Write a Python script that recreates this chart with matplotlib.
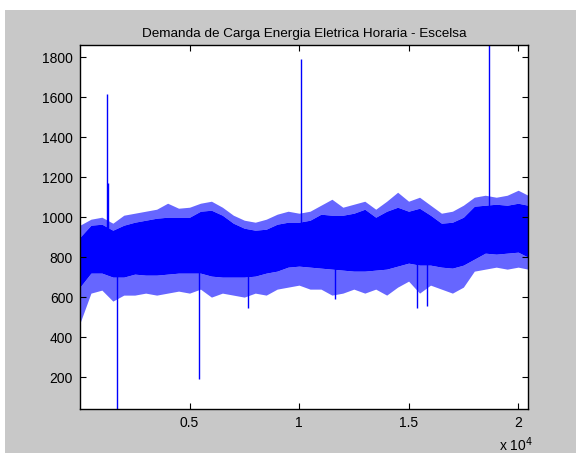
import numpy as np
import matplotlib.pyplot as plt
from matplotlib.patches import Rectangle

plt.rcParams['font.family'] = ['Liberation Sans', 'DejaVu Sans']

# hourly samples, envelope of the load band every 500 hours
hours = [0, 500, 1000, 1500, 2000, 2500, 3000, 3500, 4000, 4500,
         5000, 5500, 6000, 6500, 7000, 7500, 8000, 8500, 9000, 9500,
         10000, 10500, 11000, 11500, 12000, 12500, 13000, 13500, 14000, 14500,
         15000, 15500, 16000, 16500, 17000, 17500, 18000, 18500, 19000, 19500,
         20000, 20450]

top_core = [900, 960, 965, 935, 960, 975, 985, 995, 1000, 1000,
            1000, 1030, 1035, 1010, 970, 945, 935, 940, 965, 975,
            975, 985, 1015, 1010, 1010, 1020, 1040, 1000, 1030, 1050,
            1030, 1045, 1010, 970, 975, 1000, 1055, 1060, 1065, 1060,
            1070, 1060]

top_peak = [960, 990, 1000, 970, 1010, 1020, 1030, 1040, 1070, 1045,
            1050, 1070, 1080, 1050, 1010, 985, 975, 990, 1015, 1030,
            1020, 1030, 1060, 1090, 1050, 1065, 1080, 1040, 1080, 1125,
            1080, 1100, 1060, 1020, 1030, 1060, 1100, 1110, 1100, 1110,
            1135, 1110]

low_core = [650, 720, 720, 700, 700, 715, 710, 710, 715, 720,
            720, 720, 705, 700, 700, 700, 705, 720, 730, 750,
            755, 750, 745, 740, 735, 730, 730, 735, 740, 755,
            770, 760, 760, 750, 745, 760, 790, 820, 815, 820,
            825, 800]

low_peak = [470, 620, 635, 580, 610, 610, 620, 610, 620, 630,
            620, 640, 600, 620, 610, 600, 620, 610, 640, 650,
            660, 640, 640, 610, 620, 640, 620, 640, 610, 650,
            680, 620, 660, 640, 620, 650, 730, 740, 750, 740,
            750, 740]

# isolated outliers (hour, load)
spike_hours = [1230, 1260, 1700, 5440, 7680, 10100, 11650, 15400, 15860, 18690]
spike_loads = [1616, 1170, 40, 190, 545, 1790, 590, 545, 555, 1870]

fig = plt.figure(figsize=(5.76, 4.53), dpi=100, facecolor='white')
fig.add_artist(Rectangle((5 / 576, 0), 1, 1 - 10 / 453, transform=fig.transFigure,
                         facecolor='#c8c8c8', edgecolor='none', zorder=-10))

ax = fig.add_axes([80 / 576, 1 - 409 / 453, 448 / 576, 364 / 453])
ax.set_zorder(1)
ax.set_facecolor('white')

blue = (0, 0, 1)
ax.fill_between(hours, top_core, top_peak, color=blue, alpha=0.6, lw=0)
ax.fill_between(hours, low_peak, low_core, color=blue, alpha=0.6, lw=0)
ax.fill_between(hours, low_core, top_core, color=blue, lw=0)
ax.vlines(spike_hours, 850, spike_loads, color=blue, lw=1.0)

ax.set_xlim(1, 20450)
ax.set_ylim(40, 1862)
ax.set_xticks([5000, 10000, 15000, 20000])
ax.set_xticklabels(['0.5', '1', '1.5', '2'])
ax.set_yticks(range(200, 1801, 200))
ax.tick_params(direction='in', top=True, right=True, length=4, width=0.8,
               labelsize=10, colors='black', pad=5)
for s in ax.spines.values():
    s.set_linewidth(1.0)
    s.set_color('black')

ax.set_title('Demanda de Carga Energia Eletrica Horaria - Escelsa', fontsize=9.7, pad=6)
fig.text(499 / 576, 1 - 445 / 453, r'x 10$^{4}$', fontsize=10, va='center', ha='left')

fig.savefig('out.png', dpi=100, facecolor=fig.get_facecolor())
